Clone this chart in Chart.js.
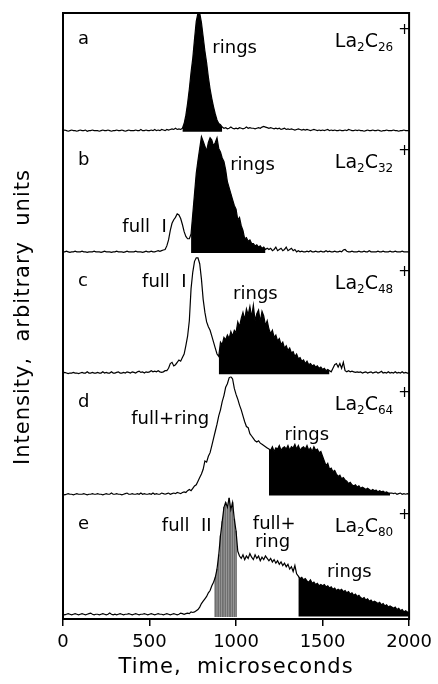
<!DOCTYPE html>
<html>
<head>
<meta charset="utf-8">
<script src="https://cdn.jsdelivr.net/npm/chart.js@4.4.1/dist/chart.umd.min.js"></script>
<style>
  html, body { margin: 0; padding: 0; background: #fff; }
  #wrap { width: 438px; height: 684px; }
</style>
</head>
<body>
<div id="wrap"><canvas id="tof" width="438" height="684"></canvas></div>
<script>
// Arrival-time distributions of La2Cn+ clusters, sampled every 10 microseconds.
const TIME = [
  0,10,20,30,40,50,60,70,80,90,100,110,120,130,140,150,160,170,180,190,
  200,210,220,230,240,250,260,270,280,290,300,310,320,330,340,350,360,370,380,390,
  400,410,420,430,440,450,460,470,480,490,500,510,520,530,540,550,560,570,580,590,
  600,610,620,630,640,650,660,670,680,690,700,710,720,730,740,750,760,770,780,790,
  800,810,820,830,840,850,860,870,880,890,900,910,920,930,940,950,960,970,980,990,
  1000,1010,1020,1030,1040,1050,1060,1070,1080,1090,1100,1110,1120,1130,1140,1150,1160,1170,1180,1190,
  1200,1210,1220,1230,1240,1250,1260,1270,1280,1290,1300,1310,1320,1330,1340,1350,1360,1370,1380,1390,
  1400,1410,1420,1430,1440,1450,1460,1470,1480,1490,1500,1510,1520,1530,1540,1550,1560,1570,1580,1590,
  1600,1610,1620,1630,1640,1650,1660,1670,1680,1690,1700,1710,1720,1730,1740,1750,1760,1770,1780,1790,
  1800,1810,1820,1830,1840,1850,1860,1870,1880,1890,1900,1910,1920,1930,1940,1950,1960,1970,1980,1990,
  2000
];

// La2C26+
const SERIES_A = [
  1,1.5,1,0.5,1,1.5,1,1,0.5,1,  1.5,1,1,1.5,0.5,1,1,1.5,1,1,
  1,0.5,1,1.5,1,1,1.5,1,0.5,1,  1,1.5,1,1,1.5,1,0.5,1,1.5,1,
  1,1,1.5,1,1,2,1,1,1.5,1,      1,1.5,1,2,1,1.5,1,2,1.5,1,
  2,1.5,2,2.5,2,3,2,2.5,2,3,    7,14,24,36,50,62,78,93,100,100,
  92,80,68,58,46,36,28,21,15,10, 7,6,4,3,3.5,2.5,3,4,3,2.5,
  3,2.5,3.5,3,2.5,3,4,3,3.5,3,  3,2.5,3,3.5,3,4,4.5,4,3.5,3,
  3.5,3,2.5,3,2.5,3,2,2.5,3,2,  2.5,2,2.5,2,1.5,2,2.5,2,1.5,2,
  1.5,2,1.5,1,1.5,2,1.5,1,1.5,1, 1.5,1,1.5,2,1,1.5,1,1.5,1,1,
  1.5,1,1,1.5,1,2,1.5,1,1,1.5,  1,1.5,1,1,0.5,1,1.5,1,1,1.5,
  1,1,1.5,1,0.5,1,1,1.5,1,1,    1,1.5,1,1,0.5,1,1,1.5,1,1,
  1
];

// La2C32+
const SERIES_B = [
  1,1,1.5,1,0.5,1,1,1.5,1,1,    1,1.5,1,1,0.5,1,1,1,1.5,1,
  1,1,0.5,1,1.5,1,1,1,0.5,1,    1,1.5,1,1,1,0.5,1,1.5,1,1,
  1,1,1.5,1,1,1,0.5,1,1.5,1,    1,1.5,1,1,1.5,2,1.5,2,2.5,3,
  6,11,19,25,28,30,33,32,29,24, 18,14,12,12,16,33,50,67,78,88,
  98,94,90,86,93,97,95,90,93,97, 88,85,80,77,70,60,55,50,45,40,
  37,28,30,23,19,12,13,10,11,8, 8,6,7,5,6,4,5,3,4,3,
  4,2,3,5,2,3,4,2,3,5,          2,3,4,2,3,1,2,1,1.5,1,
  1,1.5,1,2,1,1,1.5,1,1,1.5,    1,1,2,1,1.5,1,1,1.5,1,1,
  1.5,1,2.5,3,1.5,1,1,1.5,1,1,  1,1.5,1,1,1.5,1,1,2,1,1,
  1,1,1.5,1,1,1.5,1,1,1,1.5,    1,1,1.5,1,1,1,1.5,1,1,1,
  1
];

// La2C48+
const SERIES_C = [
  1,1.5,1,0.5,1,1,1.5,1,1,0.5,  1,1.5,1,1,2,1,1,1.5,1,1,
  1.5,1,1,2,1,1.5,1,1,2,1,      1,1.5,2,1,1,1.5,1,2,1.5,1,
  2,1.5,1,2,2.5,1.5,2,1,2,1.5,  2,3,2,2.5,2,3,2,1.5,2,3,
  3,5,9,10,7,8,10,12,11,14,     17,24,32,45,72,86,95,98,98,93,
  80,63,52,44,40,37,32,27,22,17, 15,27,25,31,29,33,30,36,32,37,
  35,44,40,47,52,46,55,50,57,48, 58,45,51,54,44,53,49,41,45,38,
  34,37,31,33,28,30,25,27,22,24, 20,22,18,19,15,17,13,14,11,12,
  9,11,8,9,7,8,6,7,5,6,         4,5,3,4,3,2,5,8,9,6,
  9,5,10,3,2,3,2,2.5,2,1.5,     2,1.5,2,1,1.5,2,1,1.5,2,1,
  1.5,2,1,1.5,2.5,1,1.5,1,2,1,  1.5,1,2,1,1.5,1,2,1,1.5,1,
  1
];

// La2C64+
const SERIES_D = [
  1,0.5,1,1.5,1,1,0.5,1,1.5,1,  1,1,1.5,1,0.5,1,1,1.5,1,1,
  1.5,1,1,0.5,1,1.5,1,1,2,1,    1,1.5,1,1,0.5,1,1.5,2,1,1,
  1.5,1,1,1.5,1,2,1,1.5,1,1,    1.5,1,2,1,1.5,1,1,2,1.5,1,
  1.5,2,1,1.5,2,1.5,2.5,2,1.5,2.5, 3,2.5,4,5,4,6,8,9,12,15,
  18,22,29,28,33,36,42,48,54,60, 67,72,79,84,91,94,99,100,98,90,
  85,81,76,72,67,62,58,57,52,50, 48,46,45,46,44,43,42,41,40,39,
  38,41,37,40,39,42,38,40,41,39, 42,38,41,40,43,39,42,38,40,41,
  39,42,38,40,37,41,38,39,36,37, 33,29,25,27,22,23,20,21,18,16,
  17,14,15,13,12,10,11,9,8,9,   7,8,6,7,6,5,6,5,4,5,
  4,4.5,3,4,3,3.5,2.5,3,2,2,    2,1.5,2,1,1.5,2,1,1.5,1,1.5,
  1
];

// La2C80+
const SERIES_E = [
  2,1.5,2,2.5,2,1.5,2,2.5,2,1.5, 2,2.5,2,1.5,2,2.5,3,2,1.5,2,
  2,1.5,2,2.5,2,1.5,2,3,2,1.5,  2,1.5,2,2.5,2,1.5,2,2,2.5,2,
  1.5,2,2.5,2,1.5,2,2,2.5,2,1.5, 2,2.5,2,1.5,2,2.5,2,2,1.5,2,
  2.5,2,1.5,2,2.5,2,1.5,2,3,2.5, 2,2.5,3,2.5,4,3.5,4,5,6,8,
  11,13,15,17,20,22,26,29,33,40, 52,68,80,92,96,92,100,90,96,82,
  72,55,51,49,52,48,51,49,53,50, 48,52,49,51,47,50,48,51,49,47,
  49,46,48,45,47,44,46,43,45,42, 44,40,42,38,43,36,34,32,33,31,
  32,30,29,31,28,29,27,28,26,27, 26,27,25,26,24,25,23,24,22,23,
  22,23,21,22,20,21,19,20,18,19, 17,18,16,15,16,14,15,13,14,12,
  13,12,11,12,10,11,9,10,8,9,   8,7,8,6,7,5,6,4,5,4,
  3
];

const PANEL_LETTERS = ['a', 'b', 'c', 'd', 'e'];
const CARBON_COUNTS = ['26', '32', '48', '64', '80'];
// time window (microseconds) assigned to ring isomers in each distribution
const RING_FROM = [690, 740, 900, 1190, 1360];
const RING_TO   = [920, 1170, 1540, 1890, 2000];
// full II window of La2C80+
const FULL2_FROM = 880;
const FULL2_TO = 1000;
const X_TICKS = [0, 500, 1000, 1500, 2000];

const SERIES = [SERIES_A, SERIES_B, SERIES_C, SERIES_D, SERIES_E];
const AXES = ['ya', 'yb', 'yc', 'yd', 'ye'];

// annotation text: panel, text, time, intensity
const NOTES = [
  { p: 0, text: 'rings',     t: 863,  v: 66.5 },
  { p: 1, text: 'rings',     t: 966,  v: 70 },
  { p: 1, text: 'full  I',   t: 343,  v: 18 },
  { p: 2, text: 'full  I',   t: 457,  v: 73 },
  { p: 2, text: 'rings',     t: 983,  v: 63 },
  { p: 3, text: 'full+ring', t: 394,  v: 60 },
  { p: 3, text: 'rings',     t: 1280, v: 47 },
  { p: 4, text: 'full  II',  t: 571,  v: 72 },
  { p: 4, text: 'full+',     t: 1097, v: 73.5 },
  { p: 4, text: 'ring',      t: 1109, v: 58.5 },
  { p: 4, text: 'rings',     t: 1526, v: 33 }
];
const LETTER_POS = { t: 86, v: 74 };
const SPECIES_POS = { t: 1571, v: 71.5 };

const FONT = '"DejaVu Sans", "Liberation Sans", sans-serif';

function windowPoints(values, from, to) {
  const pts = [];
  TIME.forEach((t, i) => { if (t >= from && t <= to) pts.push({ x: t, y: values[i] }); });
  return pts;
}

const datasets = [];
SERIES.forEach((values, i) => {
  datasets.push({
    type: 'line',
    label: 'La2C' + CARBON_COUNTS[i] + '+',
    data: values,
    yAxisID: AXES[i],
    borderColor: '#000',
    borderWidth: 1.2,
    pointRadius: 0,
    tension: 0,
    fill: false,
    order: 0
  });
  datasets.push({
    type: 'line',
    label: 'rings ' + CARBON_COUNTS[i],
    data: windowPoints(values, RING_FROM[i], RING_TO[i]),
    yAxisID: AXES[i],
    borderWidth: 0,
    borderColor: '#000',
    backgroundColor: '#000',
    pointRadius: 0,
    tension: 0,
    fill: 'origin',
    order: 2
  });
});
datasets.push({
  type: 'bar',
  label: 'full II',
  data: windowPoints(SERIES_E, FULL2_FROM, FULL2_TO),
  yAxisID: 'ye',
  backgroundColor: '#6e6e6e',
  barThickness: 1,
  grouped: false,
  order: 1
});

function panelAxis() {
  return {
    type: 'linear',
    position: 'left',
    stack: 'panels',
    stackWeight: 1,
    min: -2,
    max: 100,
    ticks: { display: false },
    grid: { display: false, drawTicks: false },
    border: { display: false },
    afterFit: (s) => { s.width = 63; }
  };
}

// La2Cn+ with subscripts and a raised charge sign
function drawSpecies(ctx, x, y, n) {
  ctx.font = '19px ' + FONT;
  ctx.fillText('La', x, y); x += ctx.measureText('La').width;
  ctx.font = '12px ' + FONT;
  ctx.fillText('2', x, y + 4); x += ctx.measureText('2').width;
  ctx.font = '19px ' + FONT;
  ctx.fillText('C', x, y); x += ctx.measureText('C').width;
  ctx.font = '12px ' + FONT;
  ctx.fillText(n, x, y + 4); x += ctx.measureText(n).width + 5;
  ctx.font = '15px ' + FONT;
  ctx.fillText('+', x, y - 13);
}

const decorations = {
  id: 'decorations',
  afterDatasetsDraw(chart) {
    const { ctx, chartArea: a, scales } = chart;
    const xs = scales.x;
    ctx.save();
    // frame
    ctx.strokeStyle = '#000';
    ctx.lineWidth = 2;
    ctx.strokeRect(a.left, a.top, a.right - a.left, a.bottom - a.top);

    ctx.fillStyle = '#000';
    ctx.textAlign = 'left';
    ctx.textBaseline = 'alphabetic';
    AXES.forEach((id, i) => {
      const ys = scales[id];
      ctx.font = '18px ' + FONT;
      ctx.fillText(PANEL_LETTERS[i], xs.getPixelForValue(LETTER_POS.t), ys.getPixelForValue(LETTER_POS.v));
      drawSpecies(ctx, xs.getPixelForValue(SPECIES_POS.t), ys.getPixelForValue(SPECIES_POS.v), CARBON_COUNTS[i]);
    });
    ctx.font = '18px ' + FONT;
    NOTES.forEach(n => {
      const ys = scales[AXES[n.p]];
      ctx.fillText(n.text, xs.getPixelForValue(n.t), ys.getPixelForValue(n.v));
    });

    // axis titles
    ctx.font = '21px ' + FONT;
    if ('letterSpacing' in ctx) ctx.letterSpacing = '1px';
    ctx.textAlign = 'center';
    ctx.textBaseline = 'middle';
    ctx.fillText('Time,  microseconds', (a.left + a.right) / 2, xs.bottom - 16);
    ctx.translate(24, (a.top + a.bottom) / 2 + 1);
    ctx.rotate(-Math.PI / 2);
    ctx.fillText('Intensity,  arbitrary  units', 0, 0);
    ctx.restore();
  }
};

const scales = {
  x: {
    type: 'linear',
    position: 'bottom',
    min: 0,
    max: 2000,
    offset: false,
    afterBuildTicks: (s) => { s.ticks = X_TICKS.map(v => ({ value: v })); },
    ticks: {
      color: '#000',
      font: { family: FONT, size: 18 },
      padding: 6,
      maxRotation: 0,
      callback: (v) => String(v)
    },
    grid: { display: true, offset: false, drawOnChartArea: false, drawTicks: true, tickLength: 7, color: '#000', lineWidth: 1.5 },
    border: { display: true, color: '#000', width: 2 },
    afterFit: (s) => { s.height = 65; }
  }
};
// stacked panels are laid out bottom-up, so the last panel is declared first
AXES.slice().reverse().forEach(id => { scales[id] = panelAxis(); });

new Chart(document.getElementById('tof'), {
  type: 'line',
  data: { labels: TIME, datasets },
  options: {
    responsive: false,
    animation: false,
    devicePixelRatio: 1,
    layout: { padding: { left: 0, right: 25, top: 13, bottom: 0 } },
    plugins: { legend: { display: false }, tooltip: { enabled: false } },
    scales
  },
  plugins: [decorations]
});
</script>
</body>
</html>
